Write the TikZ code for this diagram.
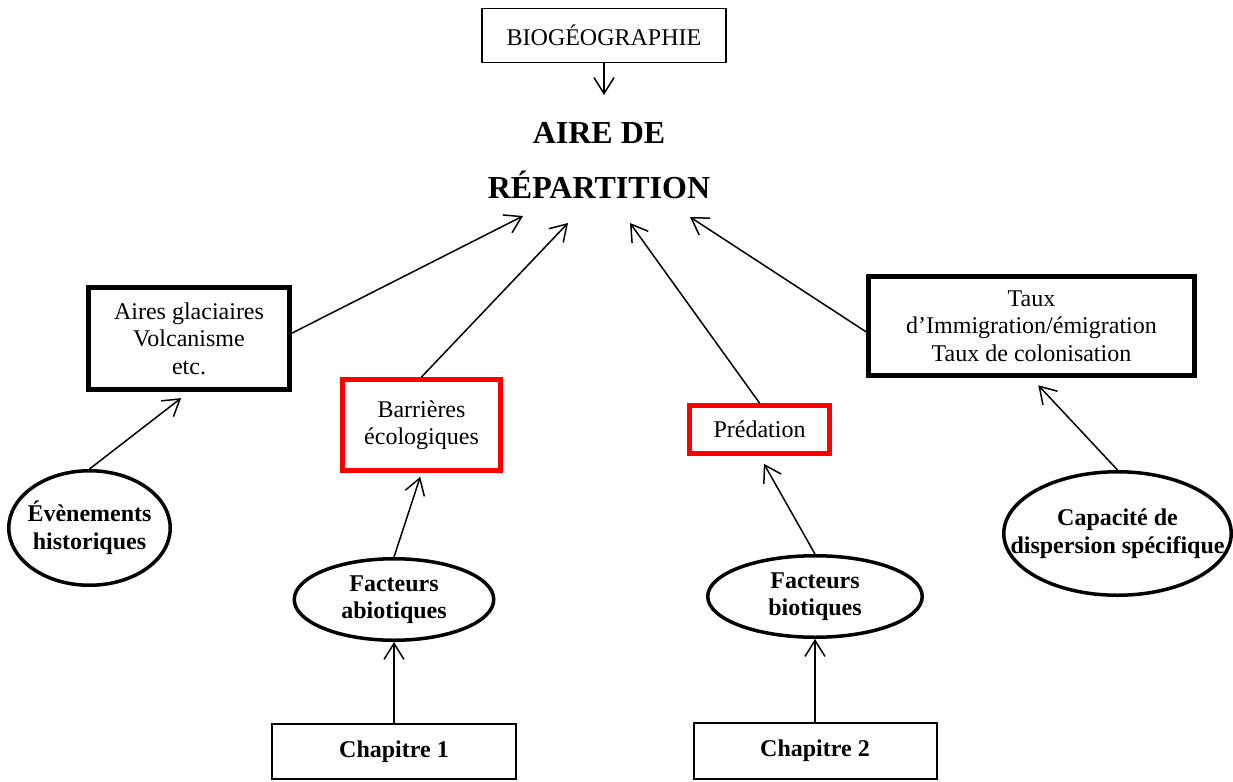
\documentclass[tikz,border=0pt]{standalone}
\usepackage{fontspec}
\setmainfont{Liberation Serif}
\usetikzlibrary{arrows.meta,shapes.geometric}
\tikzset{
    every node/.style={align=center, inner sep=0pt,
    	font=\fontsize{24}{27.5}\selectfont}
}
\tikzset{
    every edge/.append style={line width=1.5pt,
    	-{Straight Barb[length=16pt,width=20pt]}}
}
\tikzset{
	boite/.style={draw, rectangle, line width=1.5pt},
	epais/.style={draw, rectangle, line width=5pt},
	rouge/.style={epais, draw=red},
	ovale/.style={draw, ellipse, line width=3.5pt},
	gras/.style={font=\fontsize{24}{27.5}\selectfont\bfseries}
}

\begin{document}
\begin{tikzpicture}[x=1pt, y=-1pt]
	\useasboundingbox (0,0) rectangle (1233,781);
	\node (1) [boite, line width=1.2pt, minimum width=244pt, minimum height=53.5pt] at (604, 35.5) {BIOGÉOGRAPHIE};
	\node (2) [font=\fontsize{32}{55}\selectfont\bfseries] at (599, 160.5) {AIRE DE\\RÉPARTITION};
	\node (3) [epais, minimum width=201pt, minimum height=102pt] at (189, 338.5) {Aires glaciaires\\Volcanisme\\etc.};
	\node (4) [rouge, minimum width=158pt, minimum height=91pt] at (421.5, 425) {Barrières\\écologiques};
	\node (5) [rouge, minimum width=140pt, minimum height=48pt] at (759.5, 429.5) {Prédation};
	\node (6) [epais, minimum width=326pt, minimum height=99pt] at (1031.5, 326) {Taux\\d’Immigration/émigration\\Taux de colonisation};
	\node (7) [ovale, minimum width=161.5pt, minimum height=114.5pt, label={[gras]center:Évènements\\historiques}] at (89.5, 528) {};
	\node (8) [ovale, minimum width=199.5pt, minimum height=81.5pt, label={[gras]center:Facteurs\\abiotiques}] at (394, 599.5) {};
	\node (9) [ovale, minimum width=214.5pt, minimum height=81.5pt, label={[gras]center:Facteurs\\biotiques}] at (815, 596.5) {};
	\node (10) [ovale, minimum width=227.5pt, minimum height=123.5pt, label={[gras]center:Capacité de\\dispersion spécifique}] at (1117.5, 533.5) {};
	\node (11) [boite, gras, line width=2pt, minimum width=244pt, minimum height=55pt] at (394, 751.5) {Chapitre 1};
	\node (12) [boite, gras, line width=2pt, minimum width=243pt, minimum height=56pt] at (815, 751) {Chapitre 2};

	\coordinate (a0) at (604, 95);
	\coordinate (a1) at (523, 216); \coordinate (a2) at (568, 223);
	\coordinate (a3) at (630, 223); \coordinate (a4) at (690, 217);

	\draw (1) edge (a0);
	\draw (3.3) edge (a1); \draw (4.north) edge (a2);
	\draw (5.north) edge (a3); \draw (6.182) edge (a4);
	\draw (7.north) edge [shorten >=10pt] (3.south);
	\draw (8.north) edge [shorten >=4pt] (4.south);
	\draw (9.north) edge [shorten >=9pt] (5.south);
	\draw (10.north) edge [shorten >=10pt] (6.south);
	\draw (11) edge (8); \draw (12) edge (9);
\end{tikzpicture}
\end{document}
